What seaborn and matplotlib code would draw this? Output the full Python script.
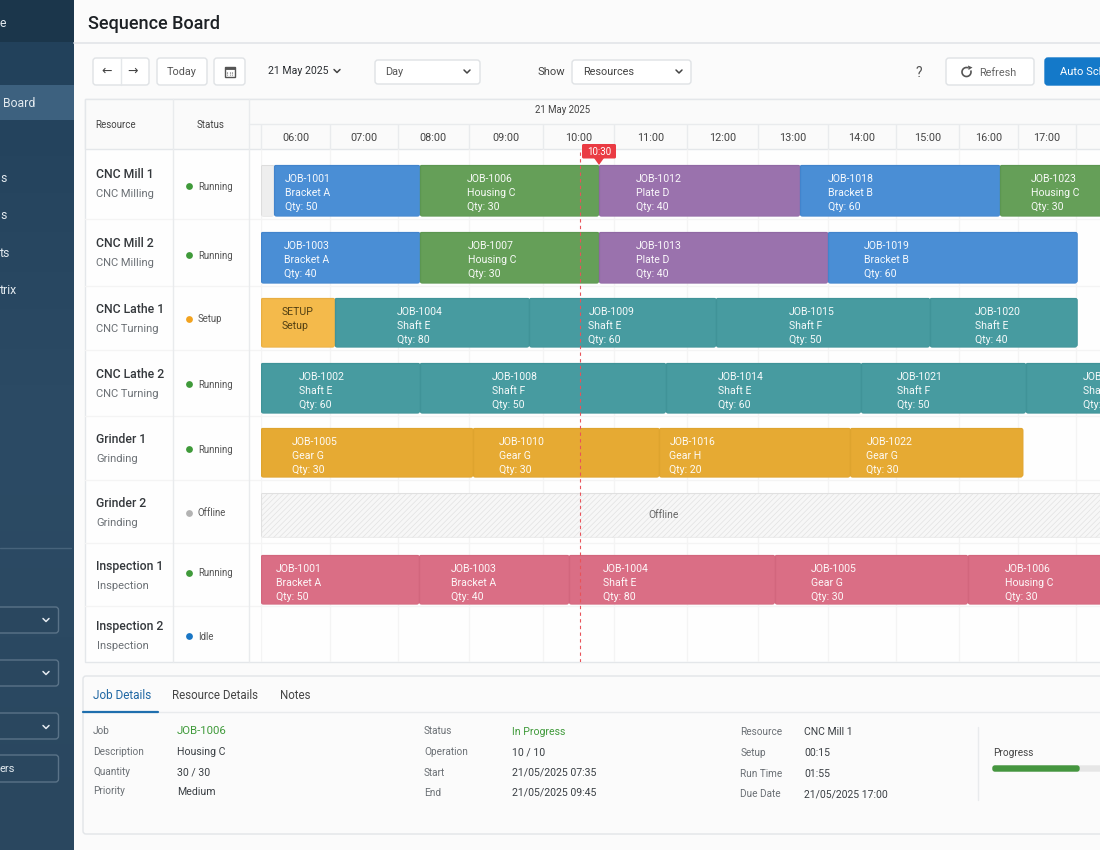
import numpy as np
import pandas as pd
import seaborn as sns
import matplotlib.pyplot as plt
from matplotlib.patches import FancyBboxPatch, Rectangle, Arc, Polygon

sns.set_theme(style="white")
plt.rcParams["font.family"] = ["Roboto", "Noto Sans", "DejaVu Sans"]
plt.rcParams["hatch.linewidth"] = 0.45

# --- data ---
RESOURCES = ["CNC Mill 1", "CNC Mill 2", "CNC Lathe 1", "CNC Lathe 2",
             "Grinder 1", "Grinder 2", "Inspection 1", "Inspection 2"]
RES_TYPES = ["CNC Milling", "CNC Milling", "CNC Turning", "CNC Turning",
             "Grinding", "Grinding", "Inspection", "Inspection"]
STATUSES = ["Running", "Running", "Setup", "Running", "Running", "Offline", "Running", "Idle"]
HOURS = ["06:00", "07:00", "08:00", "09:00", "10:00", "11:00",
         "12:00", "13:00", "14:00", "15:00", "16:00", "17:00"]

JOB_ROW = [0, 0, 0, 0, 0,
           1, 1, 1, 1,
           2, 2, 2, 2, 2,
           3, 3, 3, 3, 3,
           4, 4, 4, 4,
           6, 6, 6, 6, 6]
JOB_IDS = ["JOB-1001", "JOB-1006", "JOB-1012", "JOB-1018", "JOB-1023",
           "JOB-1003", "JOB-1007", "JOB-1013", "JOB-1019",
           "SETUP", "JOB-1004", "JOB-1009", "JOB-1015", "JOB-1020",
           "JOB-1002", "JOB-1008", "JOB-1014", "JOB-1021", "JOB-1024",
           "JOB-1005", "JOB-1010", "JOB-1016", "JOB-1022",
           "JOB-1001", "JOB-1003", "JOB-1004", "JOB-1005", "JOB-1006"]
JOB_PARTS = ["Bracket A", "Housing C", "Plate D", "Bracket B", "Housing C",
             "Bracket A", "Housing C", "Plate D", "Bracket B",
             "Setup", "Shaft E", "Shaft E", "Shaft F", "Shaft E",
             "Shaft E", "Shaft F", "Shaft E", "Shaft F", "Shaft E",
             "Gear G", "Gear G", "Gear H", "Gear G",
             "Bracket A", "Bracket A", "Shaft E", "Gear G", "Housing C"]
JOB_QTY = [50, 30, 40, 60, 30,
           40, 30, 40, 60,
           None, 80, 60, 50, 40,
           60, 50, 60, 50, 40,
           30, 30, 20, 30,
           50, 40, 80, 30, 30]
JOB_START = [6.19, 8.31, 10.79, 13.60, 16.70,
             6.00, 8.31, 10.79, 14.00,
             6.00, 7.07, 9.82, 12.41, 15.54,
             6.00, 8.31, 11.71, 14.49, 17.14,
             6.00, 9.06, 11.62, 14.33,
             6.00, 8.30, 10.37, 13.24, 16.15]
JOB_END = [8.31, 10.79, 13.60, 16.70, 18.75,
           8.31, 10.79, 14.00, 18.02,
           7.07, 9.82, 12.41, 15.54, 18.02,
           8.31, 11.71, 14.49, 17.14, 18.75,
           9.06, 11.62, 14.33, 17.09,
           8.30, 10.37, 13.24, 16.15, 18.75]
JOB_KIND = ["blue", "green", "purple", "blue", "green",
            "blue", "green", "purple", "blue",
            "setup", "teal", "teal", "teal", "teal",
            "teal", "teal", "teal", "teal", "teal",
            "amber", "amber", "amber", "amber",
            "pink", "pink", "pink", "pink", "pink"]
NOW_HOUR = 10.53
OFFLINE_ROW = 5
OFFLINE_SPAN = (6.0, 18.75)
IDLE_GAP = (6.0, 6.19)

# --- layout (pixels of the 1100x850 page) ---
HOUR_PX = [261, 330, 398, 468.6, 542.6, 614, 687, 758, 828, 895.5, 959, 1017.6, 1076, 1135]
ROW_TOP = [149, 219, 286, 350, 416, 480, 543, 606]
ROW_BOT = [219, 286, 350, 416, 480, 543, 606, 662]
BAR_TOP = [165, 232, 298, 363, 428, 493, 555, 616]
BAR_BOT = [216, 283, 347, 413, 477, 537, 604, 652]
NAME_Y = [174.5, 243.5, 309.5, 374.5, 439.5, 503.5, 566.5, 626.5]
SUB_Y = [194, 263, 329, 394, 459, 523, 586, 646]
DOT_Y = [186, 255, 319, 384, 449, 513, 573, 636]
TEXT_PAD = [11, 47, 37, 28, 31,
            23, 48, 37, 36,
            21, 62, 59, 73, 45,
            38, 72, 52, 36, 57,
            31, 26, 10, 16,
            15, 32, 34, 36, 37]

FACE = {"blue": "#4a8ed5", "green": "#659f58", "purple": "#9a72ad", "teal": "#479ba0",
        "amber": "#e6aa33", "pink": "#da6e85", "setup": "#f4ba4b"}
EDGE = {"blue": "#4284cc", "green": "#5c9651", "purple": "#9069a4", "teal": "#409398",
        "amber": "#dea42e", "pink": "#d2667d", "setup": "#e8ae42"}
DOT = {"Running": "#3f9a3a", "Setup": "#f2a31f", "Offline": "#b3b3b3", "Idle": "#1976c5"}
LINE = "#e9ebed"
GRID = "#f4f4f4"
INK = "#2b2f33"
MUTED = "#6b7075"

fig = plt.figure(figsize=(11, 8.5), dpi=100, facecolor="#fbfbfb")

# --- page chrome ---
ui = fig.add_axes([0, 0, 1, 1], zorder=0)
ui.set_xlim(0, 1100)
ui.set_ylim(850, 0)
ui.axis("off")


def label(x, y, s, size=8, color=INK, ha="left", weight="normal", **kw):
    ui.text(x, y, s, fontsize=size, color=color, ha=ha, va="center", fontweight=weight, **kw)


def box(x0, y0, x1, y1, face="#ffffff", edge="#dfe2e5", lw=1, rad=3, z=1):
    ui.add_patch(FancyBboxPatch((x0 + rad, y0 + rad), x1 - x0 - 2 * rad, y1 - y0 - 2 * rad,
                                boxstyle=f"round,pad={rad},rounding_size={rad}",
                                fc=face, ec=edge, lw=lw, zorder=z))


def chevron(x, y, color="#444444", w=3, h=3, lw=1.1):
    ui.plot([x - w, x, x + w], [y - h / 2, y + h / 2, y - h / 2], color=color, lw=lw, zorder=3,
            solid_capstyle="round")


# sidebar
grad = np.linspace(0, 1, 256).reshape(-1, 1)
side_cmap = sns.blend_palette(["#21405a", "#2c4b65", "#2a475f"], as_cmap=True)
ui.imshow(grad, extent=(0, 74, 850, 0), aspect="auto", cmap=side_cmap, zorder=1)
ui.add_patch(Rectangle((0, 0), 74, 42, fc="#1b364b", ec="none", zorder=1.1))
ui.add_patch(Rectangle((0, 85), 74, 35, fc="#3d617f", ec="none", zorder=1.1))
ui.plot([0, 71], [548, 548], color="#47637b", lw=1, zorder=2)
for s, y in zip(["e", "Board", "s", "s", "ts", "trix"], [23, 103, 178, 215, 253, 290]):
    label(0 if s != "Board" else 3, y, s, size=8.8, color="#e4ebf0", zorder=3)
for y0, y1 in [(607, 633), (660, 686), (713, 739), (755, 782)]:
    box(-10, y0, 58.5, y1, face="#2a475f", edge="#5a7388", z=2)
for y in [620, 673, 727]:
    chevron(46, y, color="#e4ebf0")
label(0, 769, "ers", size=8, color="#e4ebf0", zorder=3)

# title and toolbar
label(88, 23.5, "Sequence Board", size=13, color="#1d2125", weight="medium")
ui.plot([74, 1100], [42.5, 42.5], color="#e2e5e8", lw=1.2)
box(93, 58, 149, 85)
ui.plot([120.5, 120.5], [58, 85], color="#e4e7ea", lw=1, zorder=2)
label(107, 71.5, "←", size=9, ha="center", color="#444444", zorder=3, family="DejaVu Sans")
label(133, 71.5, "→", size=9, ha="center", color="#444444", zorder=3, family="DejaVu Sans")
box(157, 58, 207, 85)
label(182, 72, "Today", ha="center", color="#555555", size=7.8, zorder=3)
box(214, 58, 245, 85)
ui.add_patch(Rectangle((224.5, 67), 10, 10, fc="none", ec="#555555", lw=1, zorder=3))
ui.add_patch(Rectangle((224.5, 67), 10, 2.4, fc="#555555", ec="#555555", lw=0.6, zorder=3))
for xx in [227, 229.5, 232]:
    ui.plot([xx, xx], [71.5, 75], color="#666666", lw=0.8, ls=(0, (1, 1)), zorder=3)
label(268, 71, "21 May 2025", size=7.6, zorder=3)
chevron(337, 71)
box(375, 60, 480, 84)
label(385, 72, "Day", color="#555555", size=7.8, zorder=3)
chevron(467, 71.5)
label(538, 71.5, "Show", size=8, color="#444444")
box(572, 60, 691, 84)
label(583, 72, "Resources", size=7.8, color="#444444", zorder=3)
chevron(679, 71.5)
label(919, 72.5, "?", size=10, ha="center", color="#555555")
box(946, 58, 1034, 85)
ui.add_patch(Arc((966.5, 72), 9, 9, theta1=-20, theta2=290, color="#555555", lw=1.2, zorder=3))
ui.add_patch(Polygon([[968, 65.5], [972.5, 67.5], [968.5, 70]], fc="#555555", ec="none", zorder=3))
label(998, 73, "Refresh", size=7.8, ha="center", color="#666666", zorder=3)
box(1045, 58, 1130, 85, face="#1479c9", edge="#1479c9")
label(1060, 72, "Auto Schedule", size=8, color="#ffffff", zorder=3)

# table frame
ui.add_patch(Rectangle((85, 99), 1040, 563, fc="#fefefe", ec="#e4e7ea", lw=1, zorder=0.5))
ui.add_patch(Rectangle((85, 99), 1040, 50, fc="#fafafa", ec="#e4e7ea", lw=1, zorder=0.6))
ui.plot([249, 1100], [124, 124], color=LINE, lw=1, zorder=2)
for xx in [172.5, 249]:
    ui.plot([xx, xx], [99, 662], color=LINE, lw=1, zorder=2)
for y in ROW_BOT[:-1]:
    ui.plot([85, 1100], [y, y], color=GRID, lw=1, zorder=0.8)
label(95, 125, "Resource", size=7, color="#444444")
label(211, 125, "Status", size=7, color="#444444", ha="center")
label(563, 110, "21 May 2025", size=6.9, color="#444444", ha="center")

for name, sub, status, ny, sy, dy in zip(RESOURCES, RES_TYPES, STATUSES, NAME_Y, SUB_Y, DOT_Y):
    label(96.5, ny, name, size=8.8, color="#34383c", weight="medium")
    label(96.5, sy, sub, size=8, color=MUTED)
    ui.scatter([189], [dy], s=24, color=DOT[status], zorder=3, linewidths=0)
    label(198, dy + 0.5, status, size=6.9, color="#555555")

# details panel
box(83, 676, 1130, 834, face="#fbfbfb", edge="#e2e5e8")
ui.plot([83, 1100], [712, 712], color=LINE, lw=1, zorder=2)
ui.plot([83, 158], [712, 712], color="#1f6fae", lw=1.6, zorder=3)
label(93, 695.5, "Job Details", size=8.5, color="#1f67a3", zorder=3)
label(172, 695.5, "Resource Details", size=8.3, color="#444444", zorder=3)
label(280, 695.5, "Notes", size=8.3, color="#444444", zorder=3)
for xx, yy, keys in [(93, [731, 752, 772, 791], ["Job", "Description", "Quantity", "Priority"]),
                     (424, [731, 752, 773, 793], ["Status", "Operation", "Start", "End"]),
                     (740.5, [732, 753, 774, 794], ["Resource", "Setup", "Run Time", "Due Date"])]:
    for y, k in zip(yy, keys):
        label(xx, y, k, size=7.2, color=MUTED, zorder=3)
label(177, 731, "JOB-1006", size=8.2, color="#3f9a3a", zorder=3)
for y, v in zip([752, 772, 792], ["Housing C", "30 / 30", "Medium"]):
    label(177, y, v, size=7.6, color="#3a3f44", zorder=3)
label(512.5, 732, "In Progress", size=7.6, color="#3f9a3a", zorder=3)
for y, v in zip([752, 773, 793], ["10 / 10", "21/05/2025 07:35", "21/05/2025 09:45"]):
    label(512.5, y, v, size=7.6, color="#3a3f44", zorder=3)
for y, v in zip([732, 753, 774, 794], ["CNC Mill 1", "00:15", "01:55", "21/05/2025 17:00"]):
    label(804, y, v, size=7.5, color="#3a3f44", zorder=3)
ui.plot([978, 978], [727, 800], color=LINE, lw=1, zorder=3)
label(993, 752.5, "Progress", size=7.2, color="#444444", zorder=3)
box(993, 766, 1130, 771, face="#e6e6e6", edge="#e6e6e6", rad=2, z=3)
box(993, 766, 1079, 771, face="#45963f", edge="#45963f", rad=2, z=4)

# --- gantt axes: hours on x, resources on y, both through piecewise scales ---
hour_knots = np.arange(6, 6 + len(HOUR_PX))
row_ids = np.arange(len(RESOURCES))
y_idx = np.column_stack([row_ids - 0.5, row_ids - 0.4, row_ids + 0.4, row_ids + 0.5]).ravel()
y_px = np.column_stack([ROW_TOP, BAR_TOP, BAR_BOT, ROW_BOT]).ravel().astype(float)
# neighbouring rows share a border, keep the knots strictly increasing
y_idx, keep = np.unique(y_idx, return_index=True)
y_px = y_px[keep]


def hour_to_px(v):
    return np.interp(v, hour_knots, HOUR_PX)


def px_to_hour(v):
    return np.interp(v, HOUR_PX, hour_knots)


def row_to_px(v):
    return np.interp(v, y_idx, y_px)


def px_to_row(v):
    return np.interp(v, y_px, y_idx)


ax = fig.add_axes([261 / 1100, (850 - 662) / 850, (1100 - 261) / 1100, (662 - 149) / 850], zorder=2)
ax.patch.set_alpha(0)

df = pd.DataFrame({"row": [RESOURCES[r] for r in JOB_ROW], "job": JOB_IDS, "part": JOB_PARTS,
                   "qty": JOB_QTY, "start": JOB_START, "end": JOB_END, "kind": JOB_KIND,
                   "pad": TEXT_PAD, "idx": JOB_ROW})

for _, j in df.iterrows():
    sns.barplot(y=[j["row"]], x=[j["end"] - j["start"]], left=[j["start"]], order=RESOURCES,
                orient="h", color=FACE[j["kind"]], saturation=1, width=0.8, errorbar=None,
                edgecolor=EDGE[j["kind"]], linewidth=1, ax=ax, zorder=3)

# grey lead-in on the first mill, hatched band on the offline grinder
sns.barplot(y=[RESOURCES[0]], x=[IDLE_GAP[1] - IDLE_GAP[0]], left=[IDLE_GAP[0]], order=RESOURCES,
            orient="h", color="#eeeeee", saturation=1, width=0.8, errorbar=None,
            edgecolor="#dddddd", linewidth=0.8, ax=ax, zorder=2.5)
sns.barplot(y=[RESOURCES[OFFLINE_ROW]], x=[OFFLINE_SPAN[1] - OFFLINE_SPAN[0]], left=[OFFLINE_SPAN[0]],
            order=RESOURCES, orient="h", color="#f7f7f7", saturation=1, width=0.8, errorbar=None,
            edgecolor="#e0e0e0", linewidth=0.8, hatch="//////", ax=ax, zorder=2.5)

# the scales go on after drawing, seaborn would push its bar positions through them
ax.set_xscale("function", functions=(hour_to_px, px_to_hour))
ax.set_yscale("function", functions=(row_to_px, px_to_row))

# rounded corners: clip each bar to a rounded box over the same pixels
for p in ax.patches:
    x0, x1 = hour_to_px(p.get_x()), hour_to_px(p.get_x() + p.get_width())
    y0, y1 = row_to_px(p.get_y()), row_to_px(p.get_y() + p.get_height())
    p.set_clip_path(FancyBboxPatch((x0 + 3, y0 + 3), x1 - x0 - 6, y1 - y0 - 6,
                                   boxstyle="round,pad=3.5,rounding_size=3", transform=ui.transData))

for _, j in df.iterrows():
    txt = "#4a3a10" if j["kind"] == "setup" else "#ffffff"
    lines = [j["job"], j["part"]] + ([] if pd.isna(j["qty"]) else [f"Qty: {int(j['qty'])}"])
    for n, s in enumerate(lines):
        ax.annotate(s, xy=(j["start"], j["idx"] - 0.4), xytext=(j["pad"] * 0.72, -(13.7 + 14 * n) * 0.72),
                    textcoords="offset points", fontsize=7.6, color=txt, va="center", ha="left",
                    zorder=5, alpha=0.95)
ax.annotate("Offline", xy=(11.68, OFFLINE_ROW), ha="center", va="center", fontsize=7.4, color="#666666", zorder=5)

ax.set_xlim(6, float(px_to_hour(1100)))
ax.set_ylim(len(RESOURCES) - 0.5, -0.5)
ax.set_xlabel("")
ax.set_ylabel("")
ax.set_xticks(np.arange(6, 19))
ax.set_xticks(np.arange(len(HOURS)) + 6.5, minor=True)
ax.set_xticklabels(HOURS, minor=True)
ax.set_xticklabels([])
ax.xaxis.tick_top()
ax.tick_params(axis="x", which="major", top=True, bottom=False, labeltop=False, labelbottom=False,
               length=25 * 0.72, width=1, color=LINE, direction="out")
ax.tick_params(axis="x", which="minor", top=False, bottom=False, labeltop=True, labelbottom=False,
               length=0, pad=4.5, labelsize=7.8, labelcolor="#444444")
ax.tick_params(axis="y", left=False, labelleft=False)
ax.grid(axis="x", which="major", color=GRID, lw=1, zorder=0)
ax.set_axisbelow(True)
for sp in ax.spines.values():
    sp.set_visible(False)

# current-time marker
ax.axvline(NOW_HOUR, color="#e8535a", lw=0.8, ls=(0, (3, 3)), zorder=4)
ui2 = fig.add_axes([0, 0, 1, 1], zorder=3)
ui2.set_xlim(0, 1100)
ui2.set_ylim(850, 0)
ui2.axis("off")
ui2.add_patch(FancyBboxPatch((583, 145), 32, 12.5, boxstyle="round,pad=1,rounding_size=1.5", fc="#ea3b43", ec="none"))
ui2.add_patch(Polygon([[594, 158], [604, 158], [599, 165]], fc="#ea3b43", ec="none"))
ui2.text(599, 151.5, "10:30", fontsize=7, color="#ffffff", ha="center", va="center")

fig.savefig("out.png", dpi=100)
